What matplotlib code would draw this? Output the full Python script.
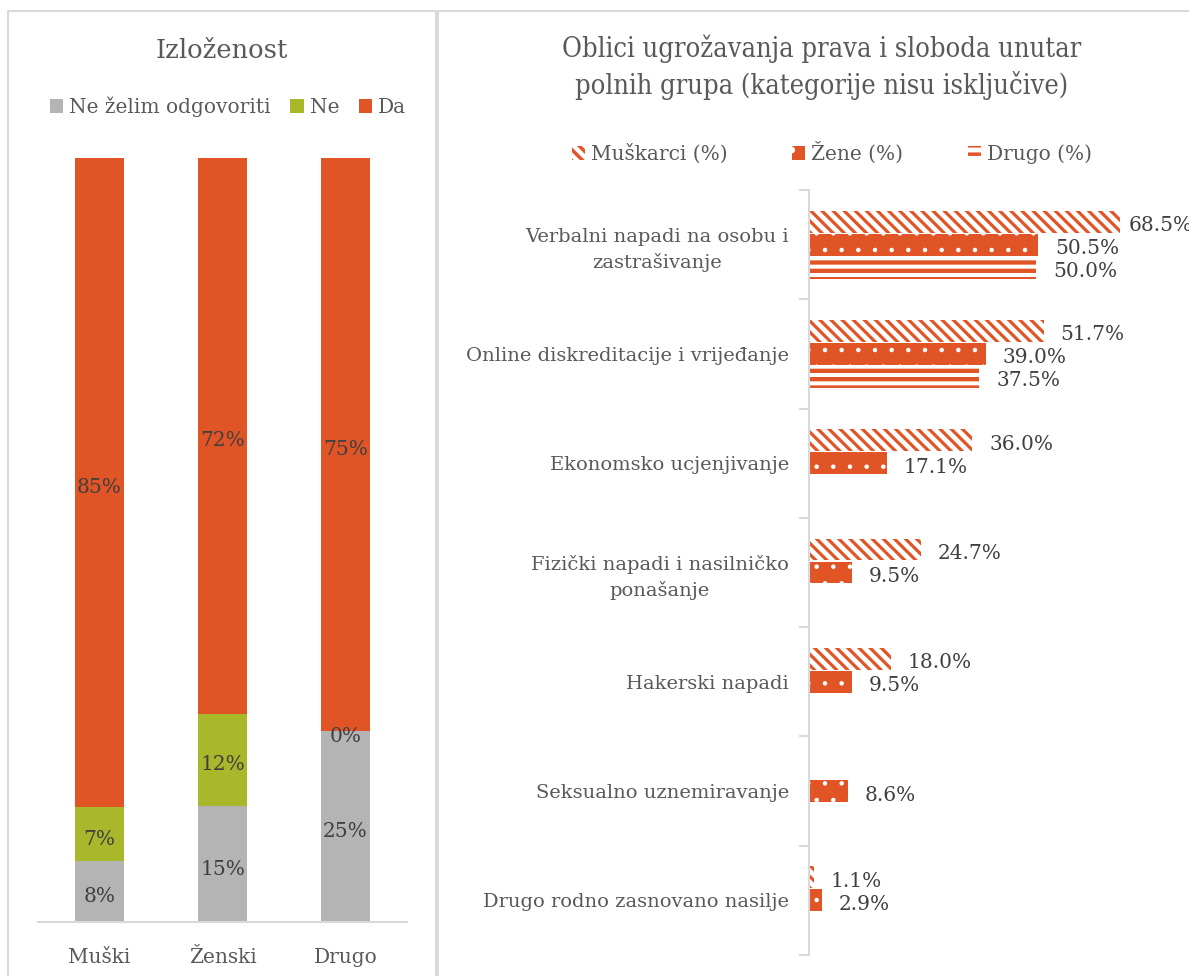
import numpy as np
import matplotlib
matplotlib.use("Agg")
import matplotlib.pyplot as plt
import matplotlib.transforms as mtransforms
from matplotlib.patches import Patch
from matplotlib.lines import Line2D

# Left chart data (Izloženost)
groups = ["Muški", "Ženski", "Drugo"]
ne_zelim = [8, 15, 25]
ne = [7, 12, 0]
da = [85, 72, 75]

# Right chart data (Oblici ugrožavanja)
categories = [
    "Verbalni napadi na osobu i\nzastrašivanje",
    "Online diskreditacije i vrijeđanje",
    "Ekonomsko ucjenjivanje",
    "Fizički napadi i nasilničko\nponašanje",
    "Hakerski napadi",
    "Seksualno uznemiravanje",
    "Drugo rodno zasnovano nasilje",
]
muskarci = [68.5, 51.7, 36.0, 24.7, 18.0, np.nan, 1.1]
zene = [50.5, 39.0, 17.1, 9.5, 9.5, 8.6, 2.9]
drugo = [50.0, 37.5, np.nan, np.nan, np.nan, np.nan, np.nan]

ORANGE = "#E15426"
GREEN = "#A8B82A"
GREY = "#B4B4B4"
TXT = "#595959"
LBL = "#404040"
LINE = "#D9D9D9"

plt.rcParams["font.family"] = ["DejaVu Serif"]
plt.rcParams["hatch.linewidth"] = 2.5

W, H = 1189, 976
fig = plt.figure(figsize=(W / 100, H / 100), dpi=100)


def fx(px):
    return px / W


def fy(py):
    return 1 - py / H


# panel borders
for xs, ys in [([8, 8, 436, 436], [H + 5, 10.5, 10.5, H + 5]),
               ([438, 438, W + 5], [H + 5, 10.5, 10.5])]:
    fig.add_artist(Line2D([fx(x) for x in xs], [fy(y) for y in ys],
                          color=LINE, lw=1.5, transform=fig.transFigure))

# ---------------- left chart ----------------
axl = fig.add_axes([fx(38), fy(922), fx(407) - fx(38), fy(158) - fy(922)])
lbl_l = mtransforms.offset_copy(axl.transData, fig=fig, x=0, y=-5, units="dots")
x = np.arange(len(groups))
raw = np.array([ne_zelim, ne, da], dtype=float)
shares = raw / raw.sum(axis=0) * 100
colors_l = [GREY, GREEN, ORANGE]
names_l = ["Ne želim odgovoriti", "Ne", "Da"]
bottom = np.zeros(len(groups))
for vals, sh, col, nm in zip(raw, shares, colors_l, names_l):
    axl.bar(x, sh, 0.4, bottom=bottom, color=col, label=nm, linewidth=0)
    for xi, v, s, b in zip(x, vals, sh, bottom):
        axl.text(xi, b + s / 2, f"{v:.0f}%", ha="center", va="center",
                 fontsize=14.5, color=LBL, transform=lbl_l)
    bottom += sh
axl.set_xlim(-0.5, 2.5)
axl.set_ylim(0, 100)
for s in ["top", "left", "right"]:
    axl.spines[s].set_visible(False)
axl.spines["bottom"].set_color(LINE)
axl.spines["bottom"].set_linewidth(1.5)
axl.set_yticks([])
axl.set_xticks(x)
axl.set_xticklabels(groups, fontsize=14.5, color=TXT)
axl.tick_params(axis="x", length=0, pad=19)

fig.text(fx(222), fy(50), "Izloženost", ha="center", va="center",
         fontsize=18.5, color=TXT)
hl, ll = axl.get_legend_handles_labels()
fig.legend(hl, ll, loc="center", bbox_to_anchor=(fx(228), fy(107)), ncol=3,
           frameon=False, fontsize=14.5, labelcolor=TXT, handlelength=0.65,
           handleheight=0.65, handletextpad=0.3, columnspacing=1.0)

# ---------------- right chart ----------------
XMAX = 380 / 4.54
axr = fig.add_axes([fx(809), fy(955), fx(1189) - fx(809), fy(190) - fy(955)])
lbl_r = mtransforms.offset_copy(axr.transData, fig=fig, x=0, y=-4, units="dots")
y = np.arange(len(categories))
series = [
    ("Muškarci (%)", muskarci, -0.21, dict(facecolor="white", edgecolor=ORANGE, hatch="\\\\\\"), 2.3),
    ("Žene (%)", zene, 0.0, dict(facecolor=ORANGE, edgecolor="white", hatch="."), 0.8),
    ("Drugo (%)", drugo, 0.21, dict(facecolor="white", edgecolor=ORANGE, hatch="--"), 3.1),
]
handles = []
for nm, vals, off, style, hlw in series:
    with plt.rc_context({"hatch.linewidth": hlw}):
        bars = axr.barh(y + off, vals, 0.2, linewidth=0, **style)
        hp = Patch(linewidth=0, **style)
    for b in list(bars) + [hp]:
        if hasattr(b, "set_hatch_linewidth"):
            b.set_hatch_linewidth(hlw)
    for yi, v in zip(y, vals):
        if np.isnan(v):
            continue
        xt = min(v + 3.7, XMAX - 13.4)
        axr.text(xt, yi + off, f"{v:.1f}%", ha="left", va="center",
                 fontsize=14.5, color=LBL, clip_on=False, transform=lbl_r)
    handles.append((hp, nm))

axr.set_xlim(0, XMAX)
axr.set_ylim(len(categories) - 0.5, -0.5)
for s in ["top", "bottom", "right"]:
    axr.spines[s].set_visible(False)
axr.spines["left"].set_color(LINE)
axr.spines["left"].set_linewidth(1.5)
axr.set_xticks([])
axr.set_yticks(y)
axr.set_yticklabels(categories, fontsize=14, color=TXT)
for t in axr.get_yticklabels():
    t.set_multialignment("center")
    t.set_linespacing(1.45)
axr.set_yticks(np.arange(len(categories) + 1) - 0.5, minor=True)
axr.tick_params(axis="y", which="major", length=0, pad=14.5)
axr.tick_params(axis="y", which="minor", length=7, width=1.5, color=LINE)

fig.text(fx(822), fy(67), "Oblici ugrožavanja prava i sloboda unutar\npolnih grupa (kategorije nisu isključive)",
         ha="center", va="center", fontsize=19.5, color=TXT, linespacing=1.35,
         fontstretch="condensed")
fig.legend([h for h, _ in handles], [n for _, n in handles], loc="center",
           bbox_to_anchor=(fx(832), fy(153)), ncol=3, frameon=False,
           fontsize=14.5, labelcolor=TXT, handlelength=0.65, handleheight=0.65,
           handletextpad=0.3, columnspacing=3.2)

fig.savefig("out.png", dpi=100)
